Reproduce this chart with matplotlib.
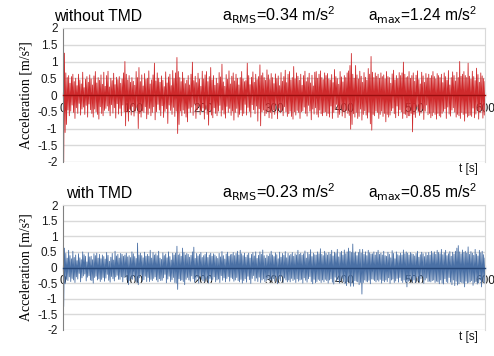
import matplotlib
matplotlib.use('Agg')
import matplotlib.pyplot as plt
from matplotlib.ticker import MultipleLocator
import numpy as np

# ---- data (one sample every 1 s) ----
t = np.arange(0, 601, 1)

acc_without = [
    1.72, -2.00, 1.25, -1.12, 0.66, -0.88, 0.52, -0.45, 0.58, -0.62, 0.35, -0.48, 0.55, -0.30, 0.62, -0.52, 0.40, -0.70, 0.50, -0.38,
    0.28, -0.55, 0.62, -0.25, 0.45, -0.60, 0.33, -0.42, 0.68, -0.36, 0.22, -0.58, 0.47, -0.31, 0.55, -0.66, 0.38, -0.27, 0.60, -0.44,
    0.48, -0.55, 0.30, -0.66, 0.57, -0.42, 0.70, -0.50, 0.36, -0.58, 0.52, -0.72, 0.44, -0.35, 0.60, -0.55, 0.32, -0.62, 0.68, -0.46,
    0.26, -0.40, 0.58, -0.33, 0.71, -0.47, 0.24, -0.62, 0.50, -0.29, 0.43, -0.54, 0.65, -0.38, 0.31, -0.69, 0.53, -0.26, 0.46, -0.57,
    0.55, -0.40, 0.35, -0.62, 0.48, -0.30, 0.66, -0.50, 1.00, -0.92, 0.62, -0.50, 0.45, -0.78, 0.58, -0.42, 0.38, -0.60, 0.52, -0.34,
    0.41, -0.63, 0.29, -0.48, 0.70, -0.37, 0.52, -1.00, 0.82, -0.55, 0.40, -0.66, 0.60, -0.48, 0.27, -0.52, 0.64, -0.35, 0.47, -0.71,
    0.50, -0.58, 0.72, -0.40, 0.33, -0.62, 0.45, -0.52, 0.60, -0.35, 0.95, -0.74, 0.42, -0.50, 0.66, -0.28, 0.50, -0.45, 0.38, -0.62,
    0.57, -0.32, 0.44, -0.67, 0.25, -0.49, 0.69, -0.41, 0.36, -0.85, 0.54, -0.30, 0.62, -0.46, 0.28, -0.58, 0.73, -0.37, 0.49, -0.64,
    0.66, -0.48, 1.12, -1.15, 0.70, -0.88, 0.52, -0.48, 0.40, -0.62, 0.68, -0.45, 0.50, -0.55, 0.34, -0.66, 0.44, -0.80, 0.58, -0.40,
    0.30, -0.52, 0.62, -0.36, 0.98, -0.61, 0.43, -0.27, 0.56, -0.70, 0.37, -0.44, 0.65, -0.33, 0.48, -0.59, 0.26, -0.47, 0.71, -0.39,
    0.48, -0.72, 0.60, -0.42, 0.70, -0.58, 0.40, -0.90, 0.55, -0.46, 0.82, -0.60, 0.45, -0.68, 0.58, -0.38, 0.29, -0.55, 0.50, -0.62,
    0.35, -0.48, 0.67, -0.31, 0.54, -0.63, 0.92, -0.45, 0.39, -0.57, 0.26, -0.69, 0.61, -0.34, 0.47, -0.52, 0.72, -0.40, 0.33, -0.61,
    0.56, -0.48, 0.66, -0.75, 0.42, -0.52, 0.62, -0.40, 0.50, -0.66, 0.30, -0.58, 0.52, -0.45, 0.70, -0.62, 0.48, -0.55, 0.40, -0.28,
    0.43, -0.60, 0.95, -0.37, 0.58, -0.49, 0.31, -0.66, 0.53, -0.29, 0.69, -0.44, 0.38, -0.56, 0.62, -0.33, 0.46, -0.78, 0.55, -0.41,
    0.90, -0.92, 0.58, -0.50, 0.66, -0.45, 0.52, -0.62, 0.44, -0.55, 0.75, -0.48, 0.60, -0.68, 0.46, -0.52, 0.64, -0.70, 0.52, -0.45,
    0.34, -0.58, 0.63, -0.30, 0.49, -0.71, 0.57, -0.39, 0.28, -0.53, 0.67, -0.46, 0.41, -0.62, 0.55, -0.35, 0.74, -0.50, 0.37, -0.64,
    0.62, -0.56, 0.70, -0.48, 0.45, -0.64, 0.52, -0.72, 0.85, -0.50, 0.48, -0.60, 0.66, -0.46, 0.56, -0.52, 0.44, -0.70, 0.62, -0.50,
    0.29, -0.47, 0.58, -0.36, 0.71, -0.55, 0.40, -0.63, 0.52, -0.31, 0.65, -0.48, 0.36, -0.74, 0.59, -0.42, 0.27, -0.57, 0.68, -0.38,
    0.70, -0.58, 0.50, -0.66, 0.62, -0.45, 0.72, -0.56, 0.52, -0.62, 0.46, -0.52, 0.66, -0.50, 0.58, -0.62, 0.64, -0.55, 0.48, -0.66,
    0.45, -0.33, 0.61, -0.70, 0.37, -0.52, 0.76, -0.44, 0.55, -0.28, 0.49, -0.67, 0.32, -0.58, 0.70, -0.41, 0.54, -0.63, 0.39, -0.49,
    0.58, -0.68, 0.52, -0.46, 0.66, -0.55, 0.72, -0.61, 0.88, -1.02, 1.24, -0.88, 0.62, -0.56, 0.50, -0.66, 0.88, -0.52, 0.60, -0.70,
    0.48, -0.64, 0.71, -0.42, 0.56, -0.75, 0.38, -0.58, 0.67, -0.47, 0.53, -0.60, 0.44, -0.69, 0.79, -0.51, 0.62, -0.86, 1.15, -1.05,
    0.68, -0.58, 0.52, -0.62, 0.66, -0.48, 0.56, -0.52, 0.62, -0.70, 0.50, -0.58, 0.66, -0.48, 0.55, -0.64, 0.60, -0.55, 0.48, -0.80,
    0.70, -0.58, 0.55, -0.66, 0.52, -0.60, 0.35, -0.47, 0.63, -0.39, 0.74, -0.56, 0.45, -0.68, 0.58, -0.33, 0.49, -0.62, 0.67, -0.44,
    0.58, -0.50, 0.66, -0.70, 0.98, -0.56, 0.62, -0.58, 0.52, -0.68, 0.55, -0.62, 0.70, -0.62, 0.50, -0.55, 0.58, -1.10, 0.66, -0.58,
    0.41, -0.67, 0.59, -0.35, 0.72, -0.50, 0.46, -0.61, 0.33, -0.54, 0.68, -0.42, 0.57, -0.73, 0.38, -0.48, 0.64, -0.30, 0.51, -0.59,
    0.62, -0.55, 0.50, -0.68, 0.58, -0.62, 0.70, -0.52, 0.55, -0.58, 0.48, -0.72, 0.64, -0.55, 0.58, -0.62, 0.52, -0.66, 0.62, -0.55,
    0.37, -0.49, 0.66, -0.41, 0.55, -0.70, 0.44, -0.36, 0.73, -0.57, 0.30, -0.63, 0.52, -0.45, 0.69, -0.38, 0.58, -0.51, 0.42, -0.66,
    0.68, -0.58, 0.52, -0.62, 1.00, -0.70, 0.56, -0.52, 0.62, -0.58, 0.70, -0.78, 0.58, -0.55, 0.52, -0.66, 0.95, -0.62, 0.56, -0.60,
    0.47, -0.64, 0.71, -0.39, 0.55, -0.68, 0.43, -0.57, 0.80, -0.46, 0.61, -0.72, 0.38, -0.53, 0.66, -0.44, 0.57, -0.69, 0.49, -0.60,
    0.40,
]

acc_with = [
    0.80, -1.25, 0.62, -0.52, 0.45, -0.38, 0.30, -0.42, 0.55, -0.30, 0.38, -0.45, 0.28, -0.35, 0.52, -0.40, 0.32, -0.48, 0.40, -0.30,
    0.22, -0.37, 0.44, -0.19, 0.31, -0.46, 0.25, -0.33, 0.50, -0.27, 0.41, -0.21, 0.36, -0.43, 0.18, -0.31, 0.47, -0.26, 0.34, -0.40,
    0.36, -0.42, 0.25, -0.50, 0.44, -0.32, 0.38, -0.28, 0.46, -0.40, 0.30, -0.36, 0.42, -0.45, 0.28, -0.38, 0.40, -0.32, 0.35, -0.44,
    0.27, -0.34, 0.48, -0.22, 0.39, -0.41, 0.20, -0.47, 0.33, -0.29, 0.45, -0.36, 0.24, -0.43, 0.52, -0.30, 0.37, -0.25, 0.42, -0.38,
    0.30, -0.38, 0.45, -0.30, 0.42, -0.46, 0.36, -0.32, 0.40, -0.28, 0.46, -0.40, 0.34, -0.55, 0.38, -0.42, 0.32, -0.36, 0.50, -0.38,
    0.44, -0.27, 0.35, -0.42, 0.29, -0.48, 0.78, -0.55, 0.40, -0.33, 0.46, -0.24, 0.38, -0.44, 0.31, -0.39, 0.49, -0.28, 0.36, -0.45,
    0.42, -0.32, 0.36, -0.45, 0.55, -0.38, 0.30, -0.42, 0.48, -0.35, 0.40, -0.30, 0.44, -0.40, 0.38, -0.46, 0.52, -0.36, 0.30, -0.42,
    0.26, -0.41, 0.47, -0.33, 0.38, -0.22, 0.43, -0.49, 0.31, -0.37, 0.50, -0.28, 0.35, -0.45, 0.24, -0.39, 0.46, -0.32, 0.40, -0.48,
    0.46, -0.50, 0.68, -0.70, 0.40, -0.36, 0.44, -0.42, 0.36, -0.40, 0.62, -0.45, 0.48, -0.55, 0.40, -0.38, 0.45, -0.32, 0.42, -0.40,
    0.33, -0.44, 0.39, -0.27, 0.50, -0.36, 0.65, -0.47, 0.29, -0.41, 0.45, -0.31, 0.37, -0.50, 0.42, -0.26, 0.48, -0.38, 0.32, -0.43,
    0.38, -0.45, 0.42, -0.36, 0.48, -0.40, 0.32, -0.50, 0.40, -0.35, 0.46, -0.42, 0.36, -0.38, 0.44, -0.30, 0.40, -0.46, 0.35, -0.40,
    0.29, -0.37, 0.45, -0.48, 0.34, -0.26, 0.51, -0.41, 0.38, -0.33, 0.27, -0.46, 0.43, -0.35, 0.49, -0.29, 0.36, -0.44, 0.41, -0.32,
    0.42, -0.36, 0.48, -0.44, 0.38, -0.40, 0.45, -0.32, 0.52, -0.42, 0.40, -0.46, 0.55, -0.38, 0.44, -0.50, 0.38, -0.42, 0.46, -0.36,
    0.33, -0.47, 0.40, -0.28, 0.46, -0.39, 0.30, -0.51, 0.42, -0.35, 0.48, -0.26, 0.37, -0.43, 0.50, -0.34, 0.29, -0.45, 0.39, -0.31,
    0.50, -0.48, 0.42, -0.40, 0.56, -0.36, 0.38, -0.45, 0.30, -0.42, 0.40, -0.35, 0.36, -0.40, 0.44, -0.38, 0.52, -0.42, 0.40, -0.36,
    0.35, -0.44, 0.47, -0.30, 0.41, -0.52, 0.28, -0.37, 0.49, -0.43, 0.33, -0.27, 0.45, -0.48, 0.39, -0.34, 0.51, -0.40, 0.31, -0.46,
    0.45, -0.40, 0.38, -0.46, 0.42, -0.35, 0.48, -0.42, 0.36, -0.38, 0.44, -0.48, 0.40, -0.36, 0.55, -0.44, 0.42, -0.40, 0.46, -0.38,
    0.39, -0.50, 0.44, -0.33, 0.53, -0.41, 0.30, -0.47, 0.48, -0.36, 0.42, -0.29, 0.57, -0.45, 0.35, -0.52, 0.46, -0.38, 0.41, -0.49,
    0.40, -0.45, 0.50, -0.38, 0.44, -0.42, 0.60, -0.48, 0.42, -0.40, 0.38, -0.46, 0.52, -0.38, 0.45, -0.42, 0.40, -0.50, 0.48, -0.40,
    0.43, -0.36, 0.55, -0.47, 0.37, -0.53, 0.49, -0.31, 0.45, -0.44, 0.58, -0.39, 0.34, -0.50, 0.47, -0.42, 0.52, -0.35, 0.40, -0.46,
    0.56, -0.52, 0.44, -0.58, 0.50, -0.45, 0.62, -0.48, 0.52, -0.60, 0.48, -0.50, 0.75, -0.60, 0.46, -0.42, 0.50, -0.44, 0.38, -0.46,
    0.48, -0.55, 0.58, -0.48, 0.46, -0.85, 0.58, -0.48, 0.42, -0.40, 0.50, -0.44, 0.38, -0.46, 0.55, -0.41, 0.47, -0.52, 0.43, -0.37,
    0.44, -0.38, 0.50, -0.42, 0.40, -0.46, 0.48, -0.40, 0.55, -0.44, 0.42, -0.38, 0.46, -0.50, 0.40, -0.42, 0.52, -0.46, 0.38, -0.40,
    0.36, -0.45, 0.49, -0.33, 0.42, -0.51, 0.31, -0.40, 0.54, -0.37, 0.45, -0.48, 0.28, -0.43, 0.50, -0.35, 0.41, -0.47, 0.38, -0.32,
    0.46, -0.42, 0.40, -0.48, 0.56, -0.40, 0.44, -0.46, 0.50, -0.62, 0.46, -0.44, 0.40, -0.42, 0.48, -0.38, 0.44, -0.46, 0.42, -0.40,
    0.37, -0.48, 0.45, -0.30, 0.52, -0.43, 0.33, -0.46, 0.41, -0.36, 0.49, -0.28, 0.44, -0.51, 0.35, -0.40, 0.47, -0.34, 0.39, -0.45,
    0.48, -0.44, 0.40, -0.46, 0.52, -0.42, 0.45, -0.40, 0.50, -0.48, 0.42, -0.44, 0.55, -0.46, 0.48, -0.52, 0.44, -0.40, 0.58, -0.50,
    0.41, -0.53, 0.47, -0.36, 0.55, -0.45, 0.38, -0.49, 0.44, -0.32, 0.51, -0.47, 0.36, -0.55, 0.49, -0.40, 0.43, -0.58, 0.52, -0.44,
    0.62, -0.56, 0.70, -0.52, 0.50, -0.46, 0.44, -0.48, 0.56, -0.50, 0.48, -0.62, 0.52, -0.44, 0.46, -0.50, 0.66, -0.48, 0.42, -0.46,
    0.51, -0.42, 0.46, -0.57, 0.39, -0.48, 0.58, -0.45, 0.43, -0.53, 0.37, -0.49, 0.55, -0.40, 0.47, -0.62, 0.52, -0.44, 0.41, -0.50,
    0.30,
]

panels = [
    ('without TMD', 54, 'a$_{\\mathrm{RMS}}$=0.34 m/s$^2$', 'a$_{\\mathrm{max}}$=1.24 m/s$^2$', acc_without, '#cf2a2c', '#9c0f0f'),
    ('with TMD', 66, 'a$_{\\mathrm{RMS}}$=0.23 m/s$^2$', 'a$_{\\mathrm{max}}$=0.85 m/s$^2$', acc_with, '#4a70a5', '#244577'),
]

# ---- figure ----
plt.rcParams['font.family'] = ['Liberation Sans', 'DejaVu Sans']
plt.rcParams['mathtext.default'] = 'regular'

W, H = 494, 356
fig = plt.figure(figsize=(W / 100, H / 100), dpi=100)

# axes boxes in pixels: (left, top, right, bottom)
boxes = [(63, 28, 485, 162), (63, 205, 485, 330)]

for (name, name_x, rms_txt, max_txt, acc, col, dark), (l, tp, r, b) in zip(panels, boxes):
    ax = fig.add_axes([l / W, 1 - b / H, (r - l) / W, (b - tp) / H])
    ax.plot(t, acc, color=col, lw=0.6, zorder=2)
    ax.set_xlim(0, 600)
    ax.set_ylim(-2, 2)
    ax.set_yticks(np.arange(-2, 2.01, 0.5))
    ax.set_yticklabels(['-2', '-1.5', '-1', '-0.5', '0', '0.5', '1', '1.5', '2'])
    ax.yaxis.grid(True, color='#d9d9d9', lw=1)
    ax.set_axisbelow(True)
    ax.tick_params(axis='y', length=0, pad=4, labelsize=8.5, colors='#1a1a1a')

    ax.xaxis.set_major_locator(MultipleLocator(100))
    ax.xaxis.set_minor_locator(MultipleLocator(20))
    ax.spines['bottom'].set_position(('data', 0))
    ax.spines['bottom'].set_color(dark)
    ax.spines['bottom'].set_linewidth(1.0)
    ax.tick_params(axis='x', which='both', direction='inout', length=5, color=dark,
                   labelsize=8.5, pad=3, labelcolor='#1a1a1a')
    ax.spines['left'].set_color('#808080')
    for s in ('top', 'right'):
        ax.spines[s].set_color('#d9d9d9')
    ax.set_ylabel('Acceleration [m/s²]', family='Liberation Serif', fontsize=10, labelpad=3)

    ybase = 1 - (tp - 7) / H
    fig.text(name_x / W, ybase, name, fontsize=11.3, va='baseline')
    fig.text(222 / W, ybase, rms_txt, fontsize=11.6, va='baseline')
    fig.text(368 / W, ybase, max_txt, fontsize=11.2, va='baseline')
    fig.text(478 / W, 1 - (b + 10) / H, 't [s]', fontsize=8.5, ha='right', va='baseline', color='#1a1a1a')

fig.savefig('out.png', dpi=100)
